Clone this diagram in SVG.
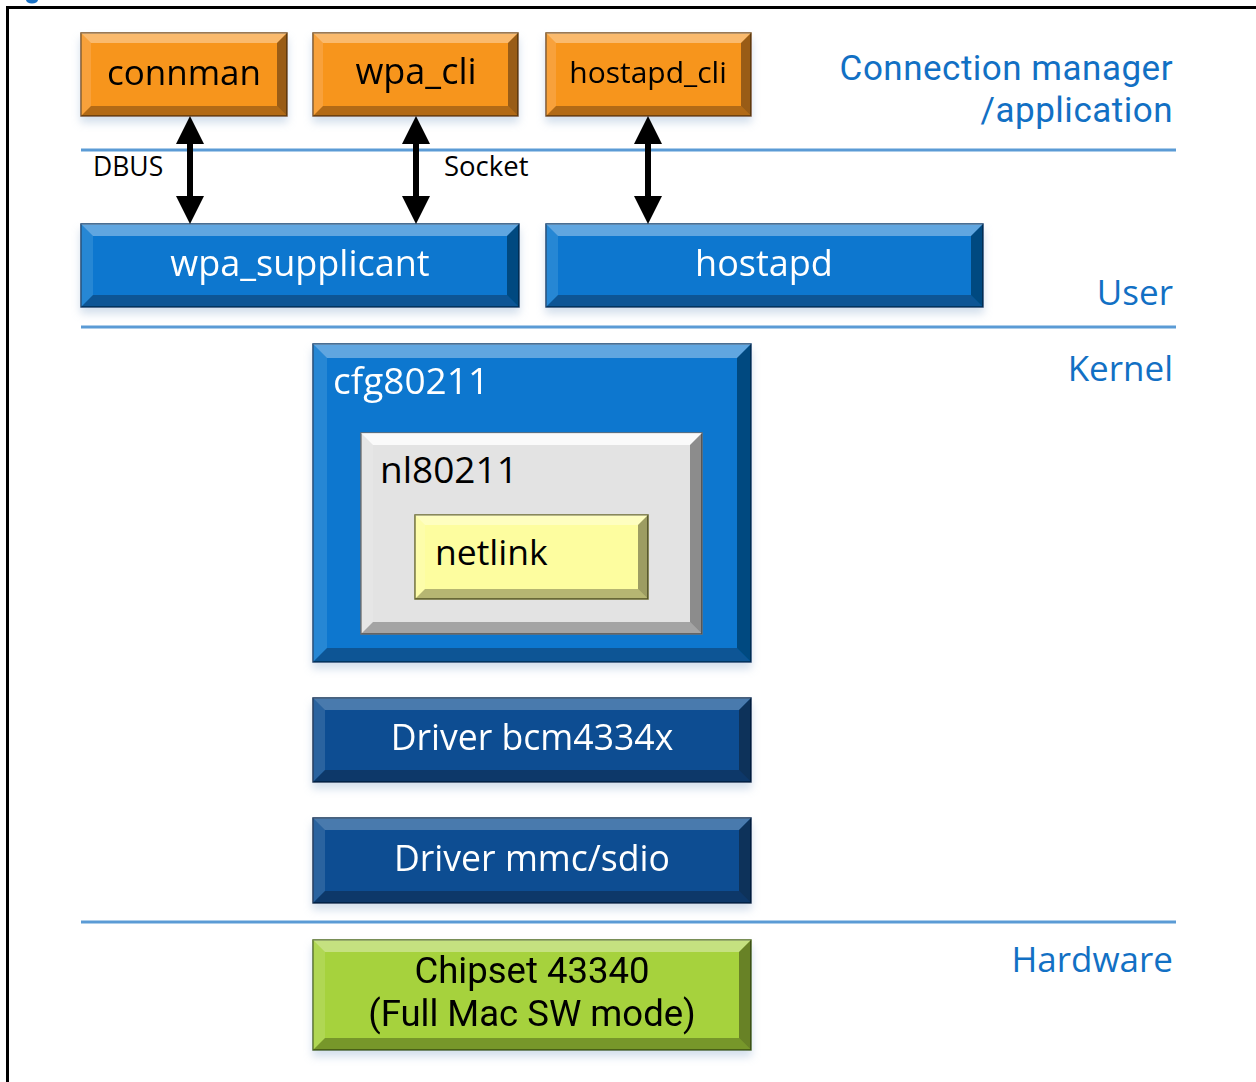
<svg xmlns="http://www.w3.org/2000/svg" width="1256" height="1082" viewBox="0 0 1256 1082">
<style>
  .lbl{font-family:"Open Sans","Noto Sans","DejaVu Sans",sans-serif;}
  .side{font-family:"Open Sans","Noto Sans",sans-serif;font-size:35px;fill:#1270c4;text-anchor:end;}
  .ml{font-family:Roboto,"Open Sans",sans-serif;}
  .hi{fill:#ffffff;fill-opacity:0.35;}
  .lo{fill:#ffffff;fill-opacity:0.12;}
  .dk{fill:#000000;fill-opacity:0.38;}
  .dkb{fill:#000000;fill-opacity:0.28;}
  .sep{stroke:#5b9bd5;stroke-width:3;fill:none;}
  .conn{stroke:#000;stroke-width:6;fill:none;marker-start:url(#ah);marker-end:url(#ah);}
  .orange{fill:#f7951f;stroke:#7a4d14;stroke-width:1.5;}
  .blue{fill:#0b77cf;stroke:#0a3d6e;stroke-width:1.5;}
  .navy{fill:#0d4e92;stroke:#062a50;stroke-width:1.5;}
  .gray{fill:#e3e3e3;stroke:#6e6e6e;stroke-width:1.5;}
  .yellow{fill:#fdfd9f;stroke:#6b6b30;stroke-width:1.5;}
  .green{fill:#a6d23c;stroke:#4e6a14;stroke-width:1.5;}
</style>
<defs>
  <marker id="ah" viewBox="0 0 28 28" refX="0" refY="14" markerWidth="28" markerHeight="28" markerUnits="userSpaceOnUse" orient="auto-start-reverse">
    <path d="M0,0 L28,14 L0,28 z" fill="#000"/>
  </marker>
  <filter id="sh" x="-10%" y="-10%" width="120%" height="130%">
    <feDropShadow dx="0" dy="6" stdDeviation="4" flood-color="#9db8d4" flood-opacity="0.45"/>
  </filter>
</defs>
<rect width="1256" height="1082" fill="#ffffff"/>
<ellipse cx="32" cy="0" rx="6" ry="3.5" fill="#1a72c6"/>
<path d="M7.5,1082 L7.5,7.5 L1256,7.5" stroke="#000" stroke-width="3" fill="none"/>

<g id="separators">
  <line class="sep" x1="81" y1="150" x2="1176" y2="150"/>
  <line class="sep" x1="81" y1="327" x2="1176" y2="327"/>
  <line class="sep" x1="81" y1="922" x2="1176" y2="922"/>
</g>

<g id="layer-labels">
  <text class="side ml" font-size="35.8" letter-spacing="0.5"><tspan x="1173" y="80">Connection manager</tspan><tspan x="1173" y="122">/application</tspan></text>
  <text class="side" x="1173" y="305">User</text>
  <text class="side" x="1173" y="381">Kernel</text>
  <text class="side" x="1173" y="972">Hardware</text>
</g>

<g id="connman" filter="url(#sh)">
  <rect class="orange" x="81" y="33" width="206" height="83"/>
  <polygon class="hi" points="81,33 287,33 277,43 91,43"/>
  <polygon class="lo" points="81,33 91,43 91,106 81,116"/>
  <polygon class="dk" points="287,33 287,116 277,106 277,43"/>
  <polygon class="dkb" points="81,116 91,106 277,106 287,116"/>
  <text class="lbl" x="184" y="85" font-size="35" text-anchor="middle" fill="#000">connman</text>
</g>
<g id="wpa_cli" filter="url(#sh)">
  <rect class="orange" x="313" y="33" width="205" height="83"/>
  <polygon class="hi" points="313,33 518,33 508,43 323,43"/>
  <polygon class="lo" points="313,33 323,43 323,106 313,116"/>
  <polygon class="dk" points="518,33 518,116 508,106 508,43"/>
  <polygon class="dkb" points="313,116 323,106 508,106 518,116"/>
  <text class="lbl" x="416" y="84" font-size="36" text-anchor="middle" fill="#000">wpa_cli</text>
</g>
<g id="hostapd_cli" filter="url(#sh)">
  <rect class="orange" x="546" y="33" width="205" height="83"/>
  <polygon class="hi" points="546,33 751,33 741,43 556,43"/>
  <polygon class="lo" points="546,33 556,43 556,106 546,116"/>
  <polygon class="dk" points="751,33 751,116 741,106 741,43"/>
  <polygon class="dkb" points="546,116 556,106 741,106 751,116"/>
  <text class="lbl" x="648" y="83" font-size="30" text-anchor="middle" fill="#000">hostapd_cli</text>
</g>

<g id="wpa_supplicant" filter="url(#sh)">
  <rect class="blue" x="81" y="224" width="438" height="83"/>
  <polygon class="hi" points="81,224 519,224 507,236 93,236"/>
  <polygon class="lo" points="81,224 93,236 93,295 81,307"/>
  <polygon class="dk" points="519,224 519,307 507,295 507,236"/>
  <polygon class="dkb" points="81,307 93,295 507,295 519,307"/>
  <text class="lbl" x="300" y="276" font-size="36" text-anchor="middle" fill="#fff">wpa_supplicant</text>
</g>
<g id="hostapd" filter="url(#sh)">
  <rect class="blue" x="546" y="224" width="437" height="83"/>
  <polygon class="hi" points="546,224 983,224 971,236 558,236"/>
  <polygon class="lo" points="546,224 558,236 558,295 546,307"/>
  <polygon class="dk" points="983,224 983,307 971,295 971,236"/>
  <polygon class="dkb" points="546,307 558,295 971,295 983,307"/>
  <text class="lbl" x="764" y="276" font-size="36" text-anchor="middle" fill="#fff">hostapd</text>
</g>

<g id="connectors">
  <path class="conn" d="M190,144 L190,196"/>
  <path class="conn" d="M416,144 L416,196"/>
  <path class="conn" d="M648,144 L648,196"/>
  <text class="lbl" x="93" y="176" font-size="26.5" fill="#000">DBUS</text>
  <text class="lbl" x="444" y="176" font-size="27.5" fill="#000">Socket</text>
</g>

<g id="cfg80211" filter="url(#sh)">
  <rect class="blue" x="313" y="344" width="438" height="318"/>
  <polygon class="hi" points="313,344 751,344 737,358 327,358"/>
  <polygon class="lo" points="313,344 327,358 327,648 313,662"/>
  <polygon class="dk" points="751,344 751,662 737,648 737,358"/>
  <polygon class="dkb" points="313,662 327,648 737,648 751,662"/>
  <text class="lbl" x="333" y="394" font-size="37" fill="#fff">cfg80211</text>
</g>
<g id="nl80211">
  <rect class="gray" x="361" y="433" width="341" height="201"/>
  <polygon class="hi" points="361,433 702,433 690,445 373,445" style="fill-opacity:0.8"/>
  <polygon class="lo" points="361,433 373,445 373,622 361,634"/>
  <polygon class="dk" points="702,433 702,634 690,622 690,445"/>
  <polygon class="dkb" points="361,634 373,622 690,622 702,634"/>
  <text class="lbl" x="380" y="483" font-size="37" fill="#000">nl80211</text>
</g>
<g id="netlink">
  <rect class="yellow" x="415" y="515" width="233" height="84"/>
  <polygon class="hi" points="415,515 648,515 638,525 425,525"/>
  <polygon class="lo" points="415,515 425,525 425,589 415,599"/>
  <polygon class="dk" points="648,515 648,599 638,589 638,525"/>
  <polygon class="dkb" points="415,599 425,589 638,589 648,599"/>
  <text class="lbl" x="435" y="565" font-size="35.5" fill="#000">netlink</text>
</g>

<g id="driver-bcm4334x" filter="url(#sh)">
  <rect class="navy" x="313" y="698" width="438" height="84"/>
  <polygon class="hi" points="313,698 751,698 739,710 325,710" style="fill-opacity:0.25"/>
  <polygon class="lo" points="313,698 325,710 325,770 313,782"/>
  <polygon class="dk" points="751,698 751,782 739,770 739,710"/>
  <polygon class="dkb" points="313,782 325,770 739,770 751,782"/>
  <text class="lbl" x="532" y="750" font-size="35.6" text-anchor="middle" fill="#fff">Driver bcm4334x</text>
</g>
<g id="driver-mmc-sdio" filter="url(#sh)">
  <rect class="navy" x="313" y="818" width="438" height="85"/>
  <polygon class="hi" points="313,818 751,818 739,830 325,830" style="fill-opacity:0.25"/>
  <polygon class="lo" points="313,818 325,830 325,891 313,903"/>
  <polygon class="dk" points="751,818 751,903 739,891 739,830"/>
  <polygon class="dkb" points="313,903 325,891 739,891 751,903"/>
  <text class="lbl" x="532" y="871" font-size="35.6" text-anchor="middle" fill="#fff">Driver mmc/sdio</text>
</g>

<g id="chipset" filter="url(#sh)">
  <rect class="green" x="313" y="940" width="438" height="110"/>
  <polygon class="hi" points="313,940 751,940 739,952 325,952"/>
  <polygon class="lo" points="313,940 325,952 325,1038 313,1050"/>
  <polygon class="dk" points="751,940 751,1050 739,1038 739,952"/>
  <polygon class="dkb" points="313,1050 325,1038 739,1038 751,1050"/>
  <text class="ml" text-anchor="middle" fill="#000" font-size="36.5"><tspan x="532" y="983">Chipset 43340</tspan><tspan x="532" y="1026">(Full Mac SW mode)</tspan></text>
</g>
</svg>
